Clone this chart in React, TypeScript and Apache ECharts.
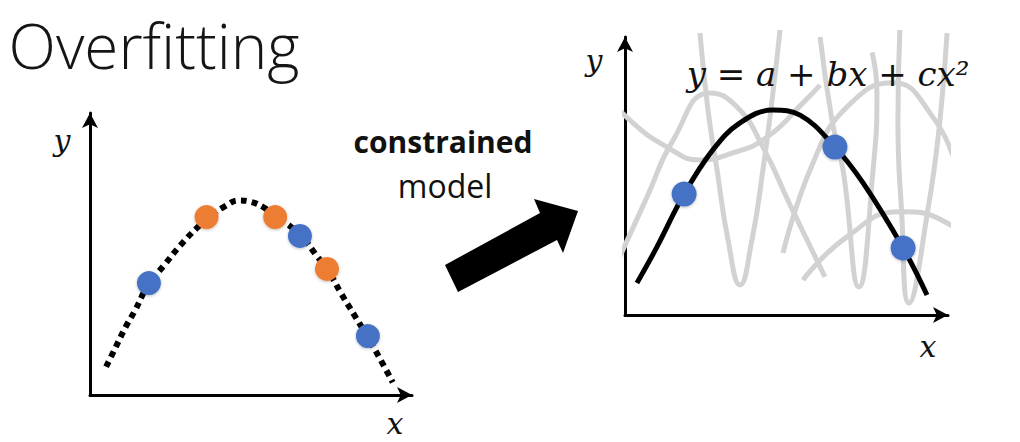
import React, { useEffect, useRef } from "react";
import * as echarts from "echarts";

// ---------- Left panel (overfitting) ----------
const leftCurve: number[][] = [
  [5, 10], [8, 17], [11, 24], [14, 30], [18, 39], [23, 46], [28, 53], [33, 59],
  [38, 64], [42, 67], [46, 69], [50, 68.5], [54, 66.5], [58, 63], [62, 60],
  [66, 56], [70, 50], [74, 44], [78, 36], [82, 28.5], [86, 21], [90, 13], [94, 4.5],
];
const leftBlue: number[][] = [[18.3, 39.7], [65.2, 56.4], [86.3, 20.9]];
const leftOrange: number[][] = [[36.2, 63.1], [57.5, 63.1], [73.6, 44.7]];

// ---------- Right panel (constrained model) ----------
const rightCurve: number[][] = [
  [3.7, 11.5], [9.9, 24.5], [18.3, 43.5], [27.2, 59.4], [35.6, 69.1], [45.8, 73.7],
  [54.2, 71.9], [65.0, 60.4], [73.7, 47.5], [86.1, 24.1], [93.5, 7.2],
];
const rightBlue: number[][] = [[18.3, 43.5], [65.0, 60.4], [86.1, 24.1]];

const grayU: number[][] = [
  [-7.1, 80.9], [1.5, 70.1], [13.0, 60.4], [23.2, 55.8], [33.4, 58.3], [44.0, 64.0], [55.1, 76.3], [60.4, 82.7],
];
const grayArcLeft: number[][] = [
  [-2.5, 18.7], [6.8, 42.4], [14.9, 62.9], [26.3, 79.9], [34.7, 74.8], [42.7, 60.4], [51.1, 39.6], [61.9, 13.7],
];
const grayNarrowLeft: number[][] = [
  [23.2, 101.4], [25.7, 73.7], [28.5, 52.2], [31.9, 27.0], [35.6, 10.8], [39.3, 27.0], [42.7, 52.2], [45.5, 77.0], [48.0, 102.5],
];
const grayNarrowMid: number[][] = [
  [60.4, 100.0], [64.1, 70.0], [67.5, 52.2], [72.4, 10.1], [76.8, 52.2], [78.0, 80.0], [76.5, 94.5],
];
const grayNarrowRight: number[][] = [
  [85.1, 102.5], [84.5, 70.0], [85.6, 38.0], [87.9, 4.3], [93.8, 38.0], [97.5, 70.0], [99.7, 101.4],
];
const grayArcRight: number[][] = [
  [48.9, 22.3], [58.2, 54.7], [68.7, 74.8], [83.0, 83.5], [94.4, 72.7], [104.6, 48.6], [115.2, 18.7],
];
const grayArcLow: number[][] = [
  [55.1, 12.6], [68.7, 28.1], [85.1, 37.1], [99.7, 33.1], [120.1, 10.1],
];
const grayCurves = [grayU, grayArcLeft, grayNarrowLeft, grayNarrowMid, grayNarrowRight, grayArcRight, grayArcLow];

// ---------- Texts ----------
const titleText = "Overfitting";
const middleBold = "constrained";
const middleRegular = "model";

const BLUE = "#4472C4";
const ORANGE = "#ED7D31";
const GRAY = "#D2D2D2";

const axisBase = (gridIndex: number) => ({
  gridIndex,
  type: "value" as const,
  min: 0,
  max: 100,
  axisLine: {
    show: true,
    onZero: false,
    lineStyle: { color: "#000", width: 3 },
    symbol: ["none", "arrow"],
    symbolSize: [12, 15],
  },
  axisTick: { show: false },
  axisLabel: { show: false },
  splitLine: { show: false },
});

const mathFont = '"DejaVu Serif"';
const dotStyle = { shadowBlur: 3, shadowColor: "rgba(0,0,0,0.25)", shadowOffsetY: 1, opacity: 1 };

export default function App() {
  const ref = useRef<HTMLDivElement>(null);
  useEffect(() => {
    if (!ref.current) return;
    const chart = echarts.init(ref.current, null, { renderer: "svg" });
    const series: any[] = [];
    grayCurves.forEach((d, i) => {
      series.push({
        type: "line",
        name: "gray" + i,
        xAxisIndex: 1,
        yAxisIndex: 1,
        data: d,
        smooth: 0.5,
        showSymbol: false,
        clip: false,
        silent: true,
        lineStyle: { color: GRAY, width: 5 },
        z: 1,
      });
    });
    series.push(
      {
        type: "line",
        name: "left fit",
        xAxisIndex: 0,
        yAxisIndex: 0,
        data: leftCurve,
        smooth: 0.4,
        showSymbol: false,
        clip: false,
        lineStyle: { color: "#000", width: 6, type: [6, 5], cap: "butt" },
        z: 2,
      },
      {
        type: "scatter",
        name: "left blue",
        xAxisIndex: 0,
        yAxisIndex: 0,
        data: leftBlue,
        symbolSize: 24,
        itemStyle: { color: BLUE, ...dotStyle },
        z: 3,
      },
      {
        type: "scatter",
        name: "left orange",
        xAxisIndex: 0,
        yAxisIndex: 0,
        data: leftOrange,
        symbolSize: 24,
        itemStyle: { color: ORANGE, ...dotStyle },
        z: 3,
      },
      {
        type: "line",
        name: "right fit",
        xAxisIndex: 1,
        yAxisIndex: 1,
        data: rightCurve,
        smooth: 0.4,
        showSymbol: false,
        clip: false,
        lineStyle: { color: "#000", width: 5 },
        z: 2,
      },
      {
        type: "scatter",
        name: "right blue",
        xAxisIndex: 1,
        yAxisIndex: 1,
        data: rightBlue,
        symbolSize: 25,
        itemStyle: { color: BLUE, ...dotStyle },
        z: 3,
      }
    );

    chart.setOption({
      animation: false,
      backgroundColor: "#ffffff",
      grid: [
        { left: 90, top: 113, width: 322, height: 282 },
        { left: 625, top: 37, width: 323, height: 278 },
      ],
      xAxis: [axisBase(0), axisBase(1)],
      yAxis: [axisBase(0), axisBase(1)],
      series,
      graphic: [
        {
          type: "text",
          x: 154,
          y: 45,
          style: {
            text: titleText,
            font: '300 62px "Open Sans"',
            fill: "#151515",
            align: "center",
            verticalAlign: "middle",
          },
        },
        {
          type: "text",
          x: 443,
          y: 141,
          style: {
            text: middleBold,
            font: 'bold 30px "Open Sans"',
            fill: "#111",
            align: "center",
            verticalAlign: "middle",
          },
        },
        {
          type: "text",
          x: 445,
          y: 185,
          style: {
            text: middleRegular,
            font: '32px "Open Sans"',
            fill: "#111",
            align: "center",
            verticalAlign: "middle",
          },
        },
        {
          type: "polygon",
          shape: {
            points: [
              [445, 265], [540, 213], [534, 199], [578, 211], [563, 253], [557, 240], [458, 292],
            ],
          },
          style: { fill: "#000" },
        },
        {
          type: "text",
          x: 62,
          y: 140,
          style: { text: "y", font: `italic 30px ${mathFont}`, fill: "#111", align: "center", verticalAlign: "middle" },
        },
        {
          type: "text",
          x: 395,
          y: 423,
          style: { text: "x", font: `italic 30px ${mathFont}`, fill: "#111", align: "center", verticalAlign: "middle" },
        },
        {
          type: "text",
          x: 594,
          y: 60,
          style: { text: "y", font: `italic 30px ${mathFont}`, fill: "#111", align: "center", verticalAlign: "middle" },
        },
        {
          type: "text",
          x: 928,
          y: 346,
          style: { text: "x", font: `italic 30px ${mathFont}`, fill: "#111", align: "center", verticalAlign: "middle" },
        },
        {
          type: "text",
          x: 828,
          y: 74,
          z: 10,
          style: {
            text: "y = a + bx + cx²",
            font: `italic 34px ${mathFont}`,
            fill: "#111",
            align: "center",
            verticalAlign: "middle",
          },
        },
      ],
    });
    return () => chart.dispose();
  }, []);
  return (
    <div
      ref={ref}
      style={{ position: "fixed", left: 0, top: 0, width: 1020, height: 442, background: "#fff" }}
    />
  );
}
